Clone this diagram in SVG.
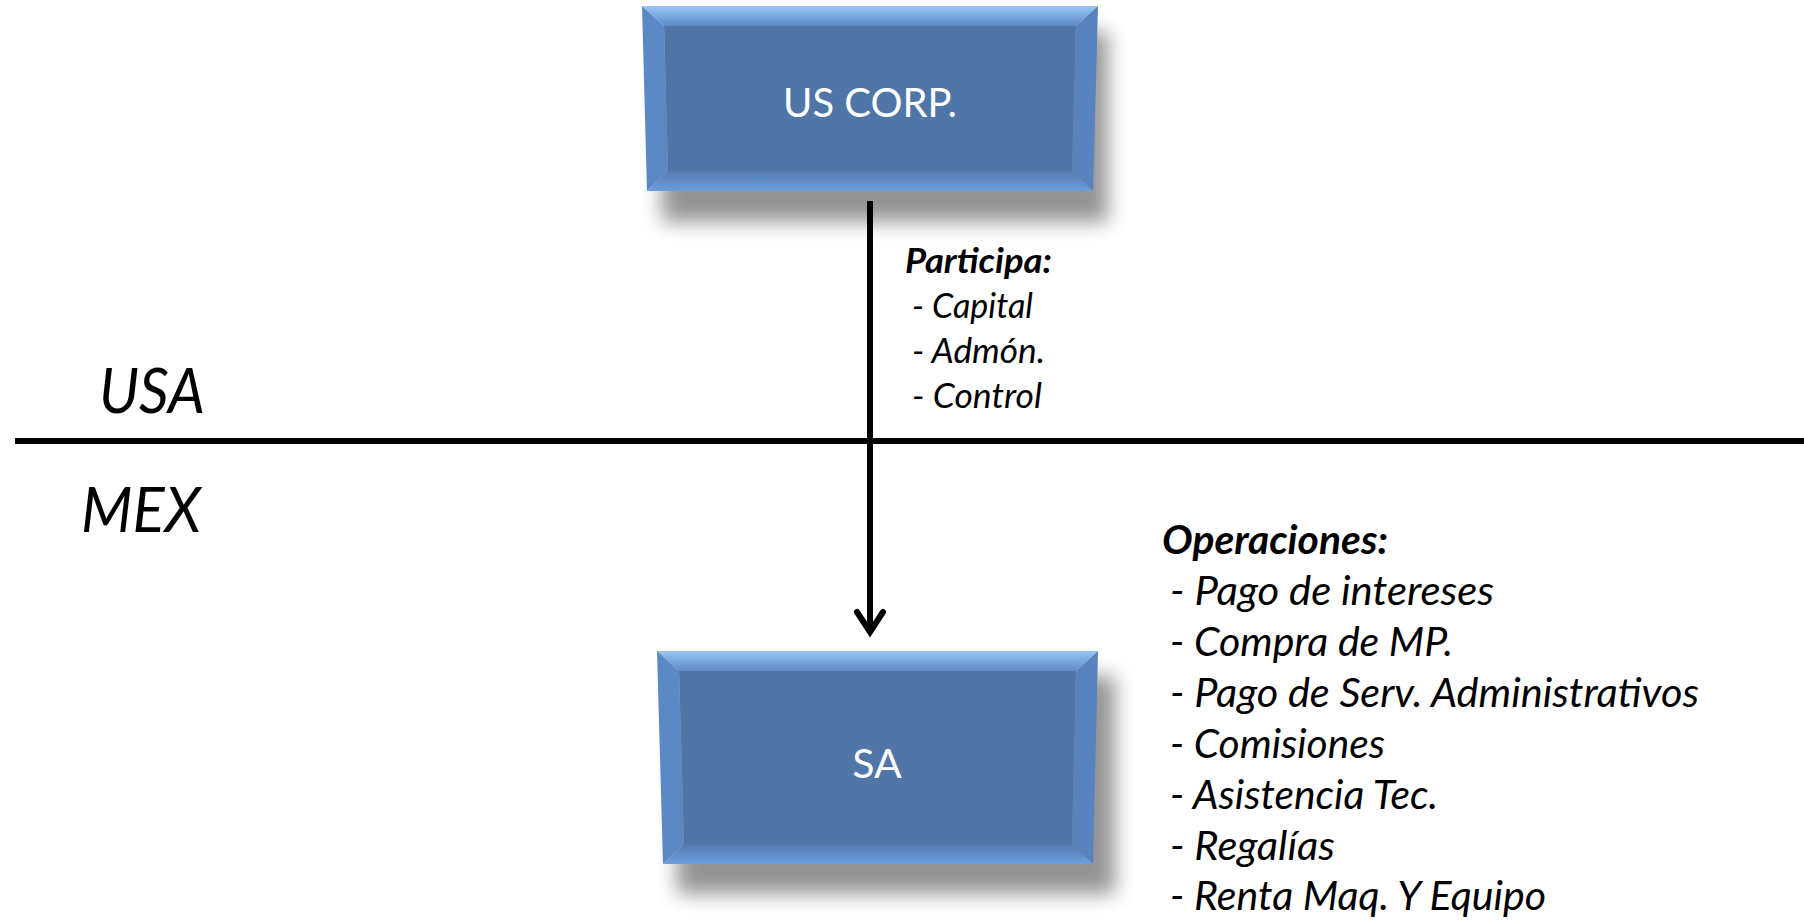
<svg xmlns="http://www.w3.org/2000/svg" width="1804" height="921" viewBox="0 0 1804 921">
<style>
.lbl{font-family:Lato,"Open Sans","Liberation Sans",sans-serif;font-style:italic;fill:#000}
.bold{font-weight:bold}
.box{font-family:Lato,"Open Sans","Liberation Sans",sans-serif;fill:#fff;text-anchor:middle}
.face{fill:#5076A7}
.bt{fill:url(#gTop)}
.bl{fill:#5B89C6}
.br{fill:#5883BE}
.bb{fill:url(#gBot)}
.shadow{fill:#000;opacity:0.42;filter:url(#blur)}
</style>
<defs>
<linearGradient id="gTop" x1="0" y1="0" x2="0" y2="1">
<stop offset="0" stop-color="#98C6F6"/>
<stop offset="1" stop-color="#5D8AC5"/>
</linearGradient>
<linearGradient id="gBot" x1="0" y1="0" x2="0" y2="1">
<stop offset="0" stop-color="#547BB0"/>
<stop offset="1" stop-color="#6B9EDE"/>
</linearGradient>
<filter id="blur" x="-20%" y="-20%" width="140%" height="140%">
<feGaussianBlur stdDeviation="10"/>
</filter>
</defs>
<rect width="1804" height="921" fill="#fff"/>

<g id="region-labels">
<text class="lbl" x="99" y="413" font-size="63" textLength="106" lengthAdjust="spacingAndGlyphs">USA</text>
<text class="lbl" x="81" y="532" font-size="63" textLength="120" lengthAdjust="spacingAndGlyphs">MEX</text>
</g>

<g id="connectors">
<line x1="15" y1="441" x2="1804" y2="441" stroke="#000" stroke-width="6"/>
<line x1="870" y1="201" x2="870" y2="632" stroke="#000" stroke-width="6"/>
<polyline points="857,612 870,632 883,612" fill="none" stroke="#000" stroke-width="6" stroke-linecap="round" stroke-linejoin="miter"/>
</g>

<g id="node-uscorp">
<rect class="shadow" x="662" y="32" width="446" height="190"/>
<polygon class="bt" points="642,6 1098,6 1076,26 664,26"/>
<polygon class="bl" points="642,6 664,26 668,171 647,191"/>
<polygon class="br" points="1098,6 1093,191 1072,171 1076,26"/>
<polygon class="bb" points="647,191 668,171 1072,171 1093,191"/>
<polygon class="face" points="664,26 1076,26 1072,171 668,171"/>
<text class="box" x="870" y="117" font-size="41" textLength="174" lengthAdjust="spacingAndGlyphs">US CORP.</text>
</g>

<g id="node-sa">
<rect class="shadow" x="677" y="676" width="438" height="218"/>
<polygon class="bt" points="657,651 1098,651 1076,671 679,671"/>
<polygon class="bl" points="657,651 679,671 684,844 663,864"/>
<polygon class="br" points="1098,651 1093,864 1072,844 1076,671"/>
<polygon class="bb" points="663,864 684,844 1072,844 1093,864"/>
<polygon class="face" points="679,671 1076,671 1072,844 684,844"/>
<text class="box" x="877" y="778" font-size="41">SA</text>
</g>

<g id="label-participa">
<text class="lbl bold" x="905" y="273" font-size="35" textLength="147" lengthAdjust="spacingAndGlyphs">Participa:</text>
<text class="lbl" x="912" y="318" font-size="35" textLength="121" lengthAdjust="spacingAndGlyphs">- Capital</text>
<text class="lbl" x="912" y="363" font-size="35" textLength="133" lengthAdjust="spacingAndGlyphs">- Admón.</text>
<text class="lbl" x="912" y="408" font-size="35" textLength="130" lengthAdjust="spacingAndGlyphs">- Control</text>
</g>

<g id="label-operaciones">
<text class="lbl bold" x="1162" y="554" font-size="40" textLength="226" lengthAdjust="spacingAndGlyphs">Operaciones:</text>
<text class="lbl" x="1170" y="605" font-size="40" textLength="324" lengthAdjust="spacingAndGlyphs">- Pago de intereses</text>
<text class="lbl" x="1170" y="656" font-size="40" textLength="283" lengthAdjust="spacingAndGlyphs">- Compra de MP.</text>
<text class="lbl" x="1170" y="707" font-size="40" textLength="529" lengthAdjust="spacingAndGlyphs">- Pago de Serv. Administrativos</text>
<text class="lbl" x="1170" y="758" font-size="40" textLength="215" lengthAdjust="spacingAndGlyphs">- Comisiones</text>
<text class="lbl" x="1170" y="809" font-size="40" textLength="268" lengthAdjust="spacingAndGlyphs">- Asistencia Tec.</text>
<text class="lbl" x="1170" y="860" font-size="40" textLength="165" lengthAdjust="spacingAndGlyphs">- Regalías</text>
<text class="lbl" x="1170" y="910" font-size="40" textLength="376" lengthAdjust="spacingAndGlyphs">- Renta Maq. Y Equipo</text>
</g>
</svg>
